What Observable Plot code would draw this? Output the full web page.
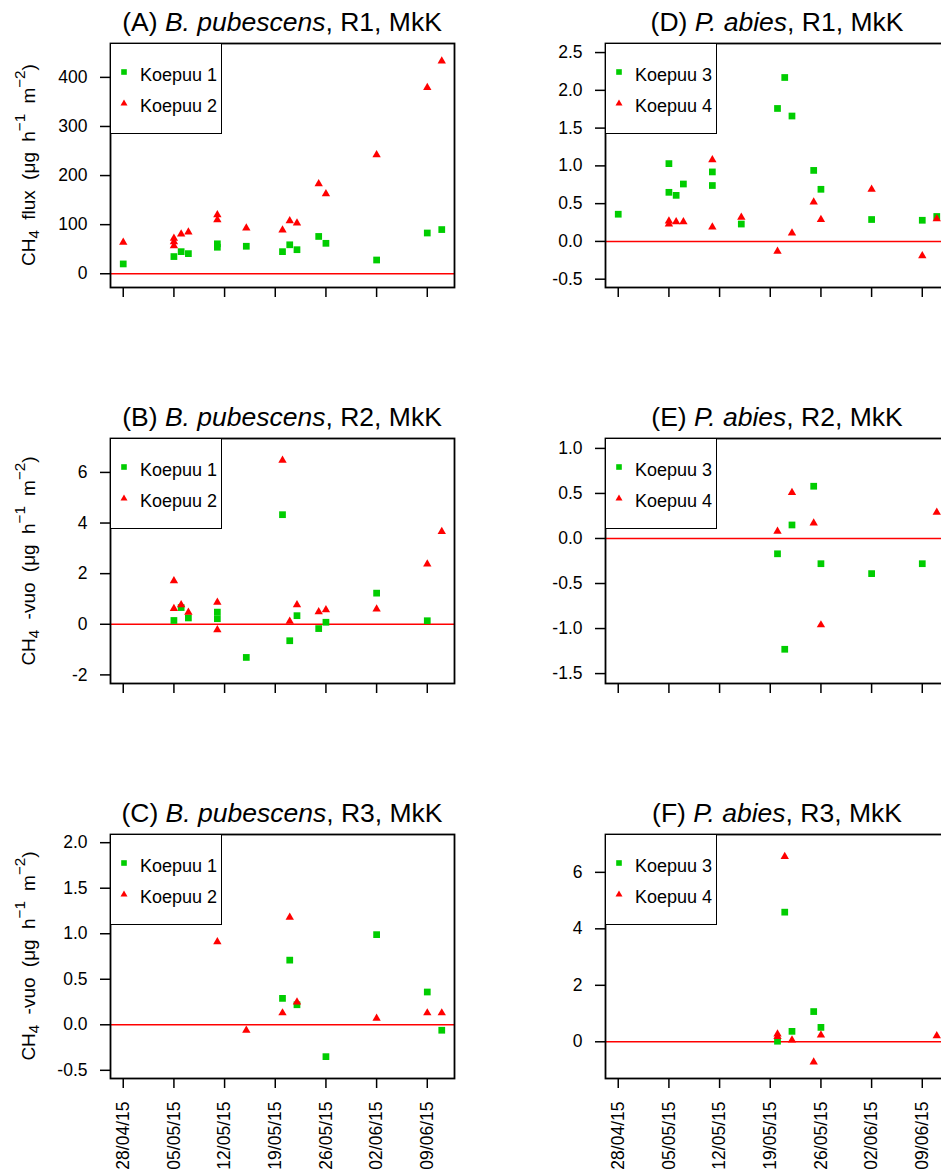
<!DOCTYPE html>
<html><head><meta charset="utf-8">
<script src="https://cdn.jsdelivr.net/npm/d3@7"></script>
<script src="https://cdn.jsdelivr.net/npm/@observablehq/plot@0.6"></script>
<style>
html,body{margin:0;padding:0;background:#fff;}
#wrap{position:relative;width:941px;height:1173px;overflow:hidden;font-family:"Liberation Sans",Arial,sans-serif;color:#000;background:#fff;}
.panel{position:absolute;}
.title{position:absolute;font-size:26.5px;line-height:26.5px;white-space:nowrap;transform:translateX(-50%);}
.ylab{position:absolute;font-size:19px;line-height:19px;white-space:nowrap;word-spacing:5px;transform:translate(-50%,-50%) rotate(-90deg);}
.ylab sub{font-size:0.8em;vertical-align:-0.3em;line-height:0;}
.ylab sup{font-size:0.8em;vertical-align:0.6em;line-height:0;}
.legend{position:absolute;border:1.7px solid #000;box-sizing:border-box;background:#fff;width:112px;height:91px;}
.legend svg{position:absolute;}
.legend span{position:absolute;font-size:18px;line-height:18px;white-space:nowrap;}
</style>
</head><body><div id="wrap"></div>
<script>
// ---------- data ----------
const tickDates = ["2015-04-28","2015-05-05","2015-05-12","2015-05-19","2015-05-26","2015-06-02","2015-06-09"];

// (A) B. pubescens, R1
const A_k1_dates = ["2015-04-28","2015-05-05","2015-05-06","2015-05-07","2015-05-11","2015-05-11","2015-05-15","2015-05-20","2015-05-21","2015-05-22","2015-05-25","2015-05-26","2015-06-02","2015-06-09","2015-06-11"];
const A_k1_vals  = [20, 35, 45, 41, 54, 61, 56, 45, 59, 49, 76, 62, 28, 83, 90];
const A_k2_dates = ["2015-04-28","2015-05-05","2015-05-05","2015-05-05","2015-05-06","2015-05-07","2015-05-11","2015-05-11","2015-05-15","2015-05-20","2015-05-21","2015-05-22","2015-05-25","2015-05-26","2015-06-02","2015-06-09","2015-06-11"];
const A_k2_vals  = [64, 72, 65, 57, 81, 85, 120, 110, 93, 89, 108, 103, 183, 163, 242, 379, 433];

// (B) B. pubescens, R2
const B_k1_dates = ["2015-05-05","2015-05-06","2015-05-07","2015-05-11","2015-05-11","2015-05-15","2015-05-20","2015-05-21","2015-05-22","2015-05-25","2015-05-26","2015-06-02","2015-06-09"];
const B_k1_vals  = [0.15, 0.66, 0.25, 0.48, 0.22, -1.31, 4.33, -0.65, 0.34, -0.17, 0.08, 1.23, 0.14];
const B_k2_dates = ["2015-05-05","2015-05-05","2015-05-06","2015-05-07","2015-05-11","2015-05-11","2015-05-20","2015-05-21","2015-05-22","2015-05-25","2015-05-26","2015-06-02","2015-06-09","2015-06-11"];
const B_k2_vals  = [1.72, 0.62, 0.77, 0.47, 0.87, -0.22, 6.48, 0.12, 0.77, 0.49, 0.57, 0.60, 2.38, 3.66];

// (C) B. pubescens, R3
const C_k1_dates = ["2015-05-20","2015-05-21","2015-05-22","2015-05-26","2015-06-02","2015-06-09","2015-06-11"];
const C_k1_vals  = [0.29, 0.71, 0.22, -0.35, 0.99, 0.36, -0.06];
const C_k2_dates = ["2015-05-11","2015-05-15","2015-05-20","2015-05-21","2015-05-22","2015-06-02","2015-06-09","2015-06-11"];
const C_k2_vals  = [0.91, -0.06, 0.13, 1.18, 0.25, 0.07, 0.13, 0.13];

// (D) P. abies, R1
const D_k3_dates = ["2015-04-28","2015-05-05","2015-05-05","2015-05-06","2015-05-07","2015-05-11","2015-05-11","2015-05-15","2015-05-20","2015-05-21","2015-05-22","2015-05-25","2015-05-26","2015-06-02","2015-06-09","2015-06-11"];
const D_k3_vals  = [0.36, 1.03, 0.65, 0.61, 0.76, 0.92, 0.74, 0.23, 1.76, 2.17, 1.66, 0.94, 0.69, 0.29, 0.28, 0.33];
const D_k4_dates = ["2015-05-05","2015-05-05","2015-05-06","2015-05-07","2015-05-11","2015-05-11","2015-05-15","2015-05-20","2015-05-22","2015-05-25","2015-05-26","2015-06-02","2015-06-09","2015-06-11"];
const D_k4_vals  = [0.27, 0.23, 0.26, 0.26, 1.08, 0.19, 0.32, -0.13, 0.11, 0.52, 0.29, 0.69, -0.19, 0.30];

// (E) P. abies, R2
const E_k3_dates = ["2015-05-20","2015-05-21","2015-05-22","2015-05-25","2015-05-26","2015-06-02","2015-06-09"];
const E_k3_vals  = [-0.17, -1.23, 0.15, 0.58, -0.28, -0.39, -0.28];
const E_k4_dates = ["2015-05-20","2015-05-22","2015-05-25","2015-05-26","2015-06-11"];
const E_k4_vals  = [0.08, 0.51, 0.17, -0.96, 0.29];

// (F) P. abies, R3
const F_k3_dates = ["2015-05-20","2015-05-21","2015-05-22","2015-05-25","2015-05-26"];
const F_k3_vals  = [0.02, 4.59, 0.37, 1.07, 0.51];
const F_k4_dates = ["2015-05-20","2015-05-20","2015-05-21","2015-05-22","2015-05-25","2015-05-26","2015-06-11"];
const F_k4_vals  = [0.27, 0.18, 6.56, 0.06, -0.72, 0.24, 0.21];

const titles = [
  ["(A) ", "B. pubescens", ", R1, MkK"],
  ["(B) ", "B. pubescens", ", R2, MkK"],
  ["(C) ", "B. pubescens", ", R3, MkK"],
  ["(D) ", "P. abies", ", R1, MkK"],
  ["(E) ", "P. abies", ", R2, MkK"],
  ["(F) ", "P. abies", ", R3, MkK"]
];
const yLabelWords = ["flux", "-vuo", "-vuo"];
const legendLeft = ["Koepuu 1", "Koepuu 2"];
const legendRight = ["Koepuu 3", "Koepuu 4"];

const yDomains = [[-28, 469], [-2.34, 7.34], [-0.59, 2.09], [-0.61, 2.62], [-1.61, 1.11], [-1.30, 7.34]];
const yTicks = [[0,100,200,300,400], [-2,0,2,4,6], [-0.5,0,0.5,1,1.5,2], [-0.5,0,0.5,1,1.5,2,2.5], [-1.5,-1,-0.5,0,0.5,1], [0,2,4,6]];
const yDecimals = [0, 0, 1, 1, 1, 0];

// ---------- layout ----------
const GREEN = "#00CD00", RED = "#FF0000";
const parse = d3.utcParse("%Y-%m-%d");
const x0 = parse("2015-04-28"), x1 = parse("2015-06-11");
const ext = (x1 - x0) * 0.04;
const xDomain = [new Date(+x0 - ext), new Date(+x1 + ext)];
const fmtDate = d3.utcFormat("%d/%m/%y");

const rowTop = [43, 438, 834];
const rowH = [244, 245, 244];
const colLeft = [0, 495];
const ML = 110, FW = 344;

const series = [
  [A_k1_dates, A_k1_vals, A_k2_dates, A_k2_vals],
  [B_k1_dates, B_k1_vals, B_k2_dates, B_k2_vals],
  [C_k1_dates, C_k1_vals, C_k2_dates, C_k2_vals],
  [D_k3_dates, D_k3_vals, D_k4_dates, D_k4_vals],
  [E_k3_dates, E_k3_vals, E_k4_dates, E_k4_vals],
  [F_k3_dates, F_k3_vals, F_k4_dates, F_k4_vals]
];

const wrap = document.getElementById("wrap");

const sqShape = '<rect x="3.2" y="3.2" width="5.6" height="5.6" fill="' + GREEN + '"/>';
const triShape = '<polygon points="6,2.4 9.5,8.5 2.5,8.5" fill="' + RED + '"/>';

for (let i = 0; i < 6; i++) {
  const col = i < 3 ? 0 : 1, row = i % 3;
  const bottom = row === 2;
  const [gd, gv, rd, rv] = series[i];
  const g = gd.map((d, k) => ({date: parse(d), value: gv[k]}));
  const r = rd.map((d, k) => ({date: parse(d), value: rv[k]}));
  const dec = yDecimals[i];
  const MT = 2, MB = bottom ? 95 : 22;
  const chart = Plot.plot({
    width: ML + FW + 16,
    height: MT + rowH[row] + MB,
    marginLeft: ML, marginRight: 16, marginTop: MT, marginBottom: MB,
    style: {fontFamily: '"Liberation Sans", Arial, sans-serif', fontSize: "17.5px", background: "transparent", color: "#000", overflow: "visible"},
    x: {type: "utc", domain: xDomain},
    y: {domain: yDomains[i]},
    marks: [
      Plot.ruleY([0], {stroke: RED, strokeWidth: 1.5}),
      Plot.dot(g, {x: "date", y: "value", symbol: "square", r: 3.8, fill: GREEN, stroke: "none"}),
      Plot.dot(r, {x: "date", y: "value", symbol: "triangle", r: 3.1, fill: RED, stroke: "none"}),
      Plot.frame({stroke: "#000", strokeWidth: 1.8}),
      Plot.axisY({ticks: yTicks[i], tickSize: 10, tickPadding: 13, strokeWidth: 1.5, label: null,
        tickFormat: v => v.toFixed(dec)}),
      Plot.axisX({ticks: tickDates.map(parse), tickSize: 10, tickPadding: 13, strokeWidth: 1.5, label: null,
        tickRotate: bottom ? -90 : 0,
        tickFormat: bottom ? fmtDate : () => ""})
    ]
  });
  chart.classList.add("panel");
  chart.style.left = colLeft[col] + "px";
  chart.style.top = (rowTop[row] - MT) + "px";
  wrap.appendChild(chart);

  // title
  const t = document.createElement("div");
  t.className = "title";
  const [a, b, c] = titles[i];
  t.innerHTML = a + "<i>" + b + "</i>" + c;
  t.style.left = (colLeft[col] + ML + FW / 2) + "px";
  t.style.top = (rowTop[row] - 12 - 22.4) + "px";
  wrap.appendChild(t);

  // legend
  const lg = document.createElement("div");
  lg.className = "legend";
  lg.style.left = (colLeft[col] + ML) + "px";
  lg.style.top = rowTop[row] + "px";
  const labels = col === 0 ? legendLeft : legendRight;
  lg.innerHTML =
    '<svg style="left:7px;top:22px" width="12" height="12">' + sqShape + '</svg>' +
    '<span style="left:29px;top:22px">' + labels[0] + '</span>' +
    '<svg style="left:7px;top:52.5px" width="12" height="12">' + triShape + '</svg>' +
    '<span style="left:29px;top:52.5px">' + labels[1] + '</span>';
  wrap.appendChild(lg);

  // y label (left column only)
  if (col === 0) {
    const yl = document.createElement("div");
    yl.className = "ylab";
    yl.innerHTML = "CH<sub>4</sub> " + yLabelWords[row] + " (\u03bcg h<sup>\u22121</sup> m<sup>\u22122</sup>)";
    yl.style.left = "28px";
    yl.style.top = (rowTop[row] + rowH[row] / 2) + "px";
    wrap.appendChild(yl);
  }
}
</script>
</body></html>
